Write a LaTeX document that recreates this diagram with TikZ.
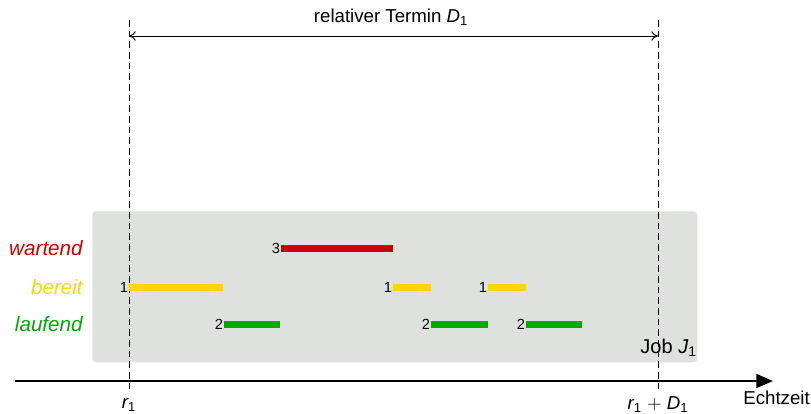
\documentclass[tikz,border=0pt]{standalone}
\usepackage{fontspec}
\setmainfont{Liberation Sans}
\usetikzlibrary{arrows.meta}
\definecolor{boxgray}{HTML}{DEE1DE}
\definecolor{wred}{HTML}{CC0000}
\definecolor{byellow}{HTML}{FFD700}
\definecolor{lgreen}{HTML}{00AA00}
\begin{document}
\begin{tikzpicture}[x=0.75pt,y=-0.75pt,
  bar/.style={line width=5.25pt,line cap=butt,draw=#1},
  num/.style={font=\fontsize{11}{13}\selectfont,inner sep=0.5pt,anchor=east},
  state/.style={font=\fontsize{15.5}{18}\selectfont\itshape,anchor=east,inner sep=0pt},
  dline/.style={dash pattern=on 5pt off 3pt,line width=0.75pt},
  main/.style={font=\fontsize{14}{16}\selectfont,inner sep=0pt}]
\useasboundingbox (0,0) rectangle (811,414);
% job box
\node[draw=none,fill=boxgray,rounded corners=2.5pt,minimum width=605*0.75pt,minimum height=151*0.75pt,anchor=north west,inner sep=0pt] (box) at (92,211) {};
\node[main,font=\fontsize{15}{17}\selectfont,anchor=south east] (job) at (697,357) {Job {\itshape J}\textsubscript{1}};
% axis
\coordinate (ax0) at (15,381);
\coordinate (ax1) at (773,381);
\draw[line width=0.9pt,-{Triangle[length=12.5pt,width=10.5pt]}] (ax0) -- (ax1);
\node[main,anchor=east] (echt) at (810,398) {Echtzeit};
% dashed lines
\coordinate (r1t) at (129,20);
\coordinate (r1b) at (129,392);
\coordinate (d1t) at (658,20);
\coordinate (d1b) at (658,392);
\draw[dline] (r1t) -- (r1b);
\draw[dline] (d1t) -- (d1b);
\node[main] (r1) at (129,405) {{\itshape r}\textsubscript{1}};
\node[main] (rd) at (658,405) {{\itshape r}\textsubscript{1} $+$ {\itshape D}\textsubscript{1}};
% deadline arrow
\coordinate (da) at (129,36);
\coordinate (db) at (658,36);
\draw[line width=0.7pt,{To[length=5pt,width=7pt]}-{To[length=5pt,width=7pt]}] (da) -- (db);
\node[main] (rel) at (391,17) {relativer Termin {\itshape D}\textsubscript{1}};
% state labels
\node[state,text=wred] (lw) at (83,248) {wartend};
\node[state,text=byellow] (lb) at (83,287) {bereit};
\node[state,text=lgreen] (ll) at (83,324) {laufend};
% bars: wartend
\coordinate (w1a) at (281,248); \coordinate (w1b) at (393,248);
\draw[bar=wred] (w1a) -- (w1b);
\node[num] (nw1) at (w1a) {3};
% bars: bereit
\coordinate (b1a) at (129,287); \coordinate (b1b) at (223,287);
\coordinate (b2a) at (393,287); \coordinate (b2b) at (431,287);
\coordinate (b3a) at (488,287); \coordinate (b3b) at (526,287);
\draw[bar=byellow] (b1a) -- (b1b);
\draw[bar=byellow] (b2a) -- (b2b);
\draw[bar=byellow] (b3a) -- (b3b);
\node[num] (nb1) at (b1a) {1};
\node[num] (nb2) at (b2a) {1};
\node[num] (nb3) at (b3a) {1};
% bars: laufend
\coordinate (l1a) at (224,324); \coordinate (l1b) at (280,324);
\coordinate (l2a) at (431,324); \coordinate (l2b) at (488,324);
\coordinate (l3a) at (526,324); \coordinate (l3b) at (582,324);
\draw[bar=lgreen] (l1a) -- (l1b);
\draw[bar=lgreen] (l2a) -- (l2b);
\draw[bar=lgreen] (l3a) -- (l3b);
\node[num] (nl1) at (l1a) {2};
\node[num] (nl2) at (l2a) {2};
\node[num] (nl3) at (l3a) {2};
\end{tikzpicture}
\end{document}
